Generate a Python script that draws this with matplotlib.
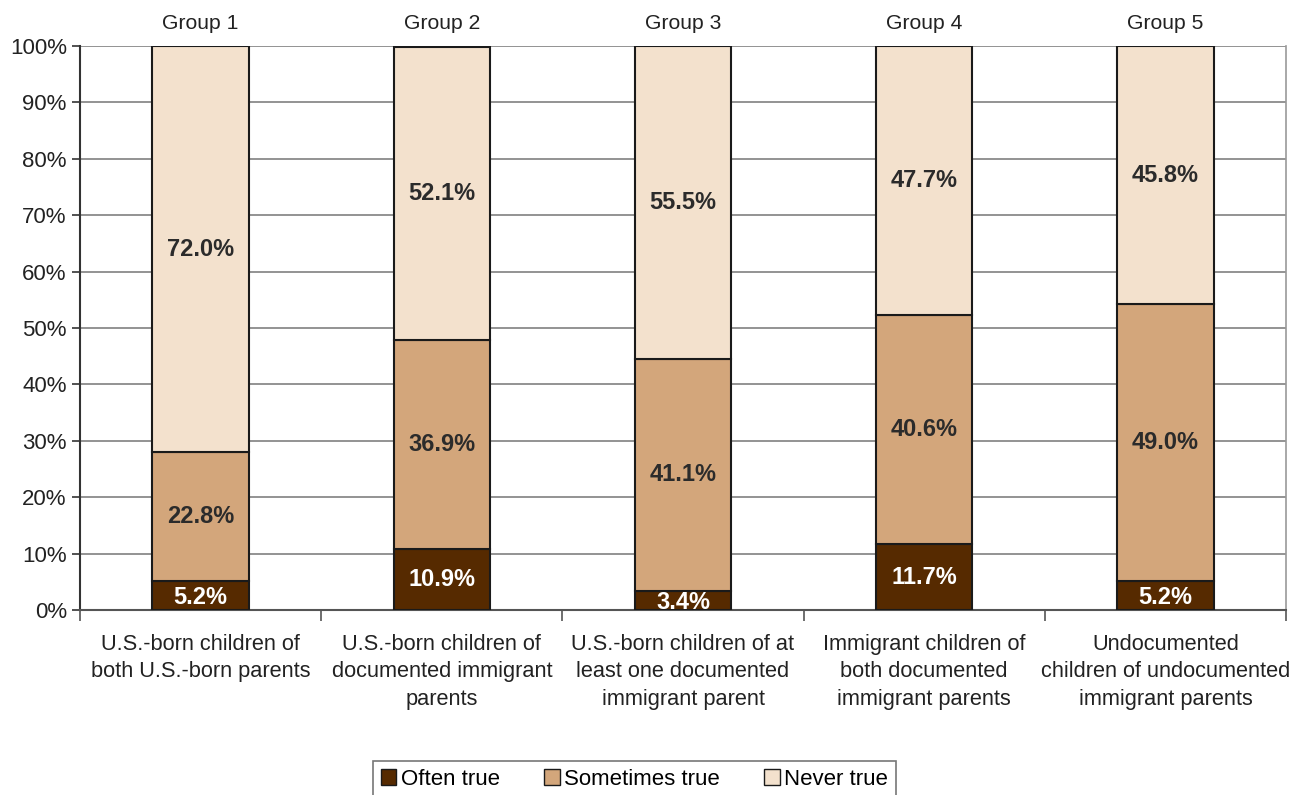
import numpy as np
import matplotlib.pyplot as plt
from matplotlib.patches import Patch

plt.rcParams['font.family'] = ['Liberation Sans', 'DejaVu Sans']

groups = ["Group 1", "Group 2", "Group 3", "Group 4", "Group 5"]
categories = ["U.S.-born children of\nboth U.S.-born parents",
              "U.S.-born children of\ndocumented immigrant\nparents",
              "U.S.-born children of at\nleast one documented\nimmigrant parent",
              "Immigrant children of\nboth documented\nimmigrant parents",
              "Undocumented\nchildren of undocumented\nimmigrant parents"]
often = [5.2, 10.9, 3.4, 11.7, 5.2]
sometimes = [22.8, 36.9, 41.1, 40.6, 49.0]
never = [72.0, 52.1, 55.5, 47.7, 45.8]

series = ["Often true", "Sometimes true", "Never true"]
colors = ["#562a00", "#d3a67b", "#f3e1cd"]
text_colors = ["white", "#2b2b2b", "#2b2b2b"]

fig = plt.figure(figsize=(13.03, 7.95), dpi=100)
ax = fig.add_axes([0.0614, 0.2327, 0.9256, 0.7093])

x = np.arange(len(groups))
bottom = np.zeros(len(groups))
for vals, col, tc in zip([often, sometimes, never], colors, text_colors):
    vals = np.array(vals)
    ax.bar(x, vals, 0.4, bottom=bottom, color=col, edgecolor="#1a1a1a", linewidth=1.5, zorder=3)
    for xi, b, v in zip(x, bottom, vals):
        y = b + v / 2
        if v < 6:
            y = b + v / 2 - 0.4
        ax.text(xi, y, f"{v:.1f}%", ha="center", va="center", color=tc,
                fontsize=17, fontweight="bold", zorder=4)
    bottom += vals

for xi, g in zip(x, groups):
    ax.text(xi, 102.3, g, ha="center", va="bottom", fontsize=15.2, color="#222222")

ax.set_xlim(-0.5, 4.5)
ax.set_ylim(0, 100)
ax.set_yticks(np.arange(0, 101, 10))
ax.set_yticklabels([f"{v}%" for v in range(0, 101, 10)], fontsize=16, color="#222222")
ax.yaxis.grid(True, color="#808080", linewidth=1.2, zorder=0)
ax.set_xticks(x)
ax.set_xticklabels(categories, fontsize=15.7, color="#222222", linespacing=1.42)
ax.tick_params(axis="x", length=0, pad=17)
ax.set_xticks(np.arange(-0.5, 5, 1), minor=True)
ax.tick_params(axis="x", which="minor", length=8, color="#555555", width=1.2)
ax.tick_params(axis="y", length=6, color="#333333", width=1.2)

ax.spines["top"].set_visible(False)
ax.spines["left"].set_color("#333333")
ax.spines["left"].set_linewidth(1.5)
ax.spines["bottom"].set_color("#555555")
ax.spines["bottom"].set_linewidth(1.5)
ax.spines["right"].set_color("#999999")
ax.spines["right"].set_linewidth(1.2)

handles = [Patch(facecolor=c, edgecolor="#1a1a1a", linewidth=1) for c in colors]
leg = fig.legend(handles, series, loc="upper center", bbox_to_anchor=(0.487, 0.043),
                 ncol=3, fontsize=16, frameon=True, fancybox=False,
                 handlelength=0.7, handleheight=0.7, handletextpad=0.2,
                 columnspacing=2.0, borderpad=0.35, borderaxespad=0)
leg.get_frame().set_edgecolor("#555555")
leg.get_frame().set_linewidth(1.2)

fig.savefig("out.png", dpi=100)
